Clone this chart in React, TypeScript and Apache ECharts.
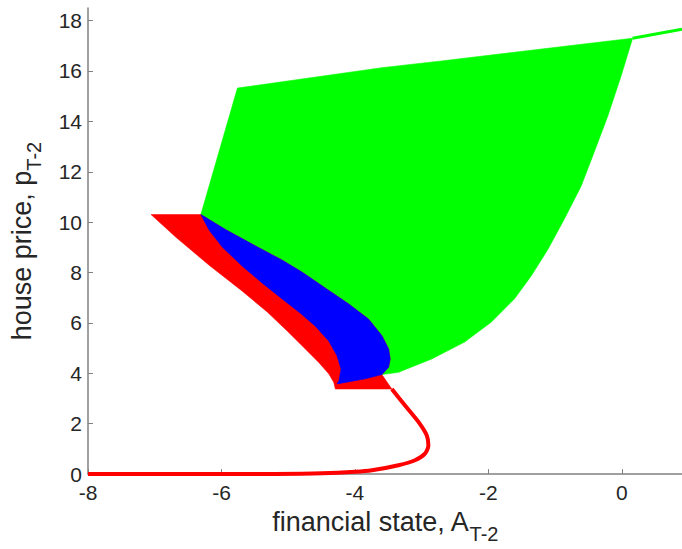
import React, { useEffect, useRef } from "react";
import * as echarts from "echarts";

// Tick values
const xTicks = [-8, -6, -4, -2, 0];
const yTicks = [0, 2, 4, 6, 8, 10, 12, 14, 16, 18];

// Region boundaries (financial state A, house price p)
const greenTop = [[-5.761, 15.32], [-3.597, 16.13], [-2.701, 16.4], [0.16, 17.3]];
const greenRight = [
  [0.16, 17.3], [-0.015, 15.78], [-0.213, 14.2], [-0.418, 12.76], [-0.612, 11.43],
  [-0.866, 10.11], [-1.109, 8.92], [-1.358, 7.87], [-1.612, 6.95], [-1.955, 6.04],
  [-2.358, 5.24], [-2.851, 4.57], [-3.348, 4.04], [-3.597, 3.95],
];
const blueUpper = [
  [-6.309, 10.3], [-5.936, 9.7], [-5.537, 9.12], [-5.09, 8.49], [-4.791, 8.01],
  [-4.443, 7.38], [-4.094, 6.75], [-3.796, 6.15], [-3.597, 5.49], [-3.497, 4.97],
  [-3.473, 4.57], [-3.497, 4.24], [-3.597, 3.95],
];
const blueBottom = [[-3.846, 3.78], [-4.269, 3.58]];
const blueLower = [
  [-6.309, 10.3], [-6.184, 9.68], [-5.985, 9.0], [-5.687, 8.25], [-5.388, 7.58],
  [-5.09, 6.95], [-4.821, 6.39], [-4.593, 5.87], [-4.393, 5.28], [-4.269, 4.7],
  [-4.209, 4.17], [-4.239, 3.71], [-4.269, 3.58],
];
const redOuter = [
  [-7.055, 10.3], [-6.682, 9.4], [-6.184, 8.29], [-5.687, 7.26], [-5.313, 6.43],
  [-5.015, 5.68], [-4.791, 5.09], [-4.542, 4.43], [-4.393, 3.98], [-4.318, 3.65],
  [-4.294, 3.38], [-3.448, 3.38],
];
const redCurve = [
  [-3.448, 3.38], [-3.249, 2.72], [-3.049, 2.07], [-2.925, 1.54], [-2.9, 1.14],
  [-2.951, 0.81], [-3.1, 0.55], [-3.348, 0.35], [-3.746, 0.15], [-3.996, 0.09],
  [-4.493, 0.03], [-5.2, 0.005], [-6.5, 0], [-8, 0],
];
const greenRidge = [[0.16, 17.3], [0.9, 17.66]];

const rev = (a: number[][]) => a.slice().reverse();

const greenPoly = [...greenTop, ...greenRight.slice(1), ...blueBottom, ...rev(blueLower)];
const bluePoly = [...blueUpper, ...blueBottom, ...rev(blueLower)];
const redPoly = [...redOuter, [-3.597, 3.95], ...rev(blueUpper)];

function polySeries(name: string, pts: number[][], color: string, z: number) {
  return {
    type: "custom",
    name,
    coordinateSystem: "cartesian2d",
    z,
    silent: true,
    data: pts,
    encode: { x: 0, y: 1 },
    renderItem: (params: any, api: any) => {
      if (params.dataIndex !== 0) return null;
      const points = pts.map((p) => api.coord(p));
      return {
        type: "polygon",
        shape: { points, smooth: 0 },
        style: { fill: color, stroke: color, lineWidth: 0.6 },
      };
    },
  };
}

const FONT = "Liberation Sans, Arial, Helvetica, sans-serif";
const TXT = "#262626";

const nameRich = {
  m: { fontSize: 27, fontFamily: FONT, color: TXT, lineHeight: 31, verticalAlign: "top" },
  s: { fontSize: 20, fontFamily: FONT, color: TXT, lineHeight: 22, padding: [16, 0, 0, 0], verticalAlign: "top" },
};

export default function App() {
  const ref = useRef<HTMLDivElement>(null);
  useEffect(() => {
    if (!ref.current) return;
    const chart = echarts.init(ref.current, null, { renderer: "svg" });
    chart.setOption({
      animation: false,
      backgroundColor: "#ffffff",
      grid: { left: 85, right: 0, top: 8, bottom: 73.5, containLabel: false },
      xAxis: {
        type: "value",
        min: -8,
        max: 0.9,
        interval: 2,
        name: "{m|financial state, A}{s|T-2}",
        nameLocation: "middle",
        nameGap: 24,
        nameTextStyle: { rich: nameRich },
        axisLine: { show: true, onZero: false, lineStyle: { color: "#808080", width: 1.5 } },
        axisTick: { show: true, inside: true, length: 5, customValues: xTicks, lineStyle: { color: "#808080" } },
        axisLabel: { customValues: xTicks, fontSize: 21, fontFamily: FONT, color: TXT, margin: 8 },
        splitLine: { show: false },
      },
      yAxis: {
        type: "value",
        min: 0,
        max: 18.5,
        interval: 2,
        name: "{m|house price, p}{s|T-2}",
        nameLocation: "middle",
        nameGap: 49,
        nameTextStyle: { rich: nameRich },
        axisLine: { show: true, onZero: false, lineStyle: { color: "#808080", width: 1.5 } },
        axisTick: { show: true, inside: true, length: 5, customValues: yTicks, lineStyle: { color: "#808080" } },
        axisLabel: { customValues: yTicks, fontSize: 21, fontFamily: FONT, color: TXT, margin: 6 },
        splitLine: { show: false },
      },
      series: [
        polySeries("green", greenPoly, "#00ff00", 2),
        polySeries("red", redPoly, "#ff0000", 3),
        polySeries("blue", bluePoly, "#0000ff", 4),
        {
          type: "line",
          name: "ridge",
          data: greenRidge,
          showSymbol: false,
          clip: false,
          z: 2,
          silent: true,
          lineStyle: { color: "#00ff00", width: 3 },
        },
        {
          type: "line",
          name: "red curve",
          data: redCurve,
          showSymbol: false,
          clip: false,
          smooth: 0.25,
          z: 5,
          silent: true,
          lineStyle: { color: "#ff0000", width: 4 },
        },
      ],
    });
    return () => chart.dispose();
  }, []);
  return (
    <div
      ref={ref}
      style={{ position: "fixed", left: 0, top: 0, width: 682, height: 549, background: "#fff" }}
    />
  );
}
